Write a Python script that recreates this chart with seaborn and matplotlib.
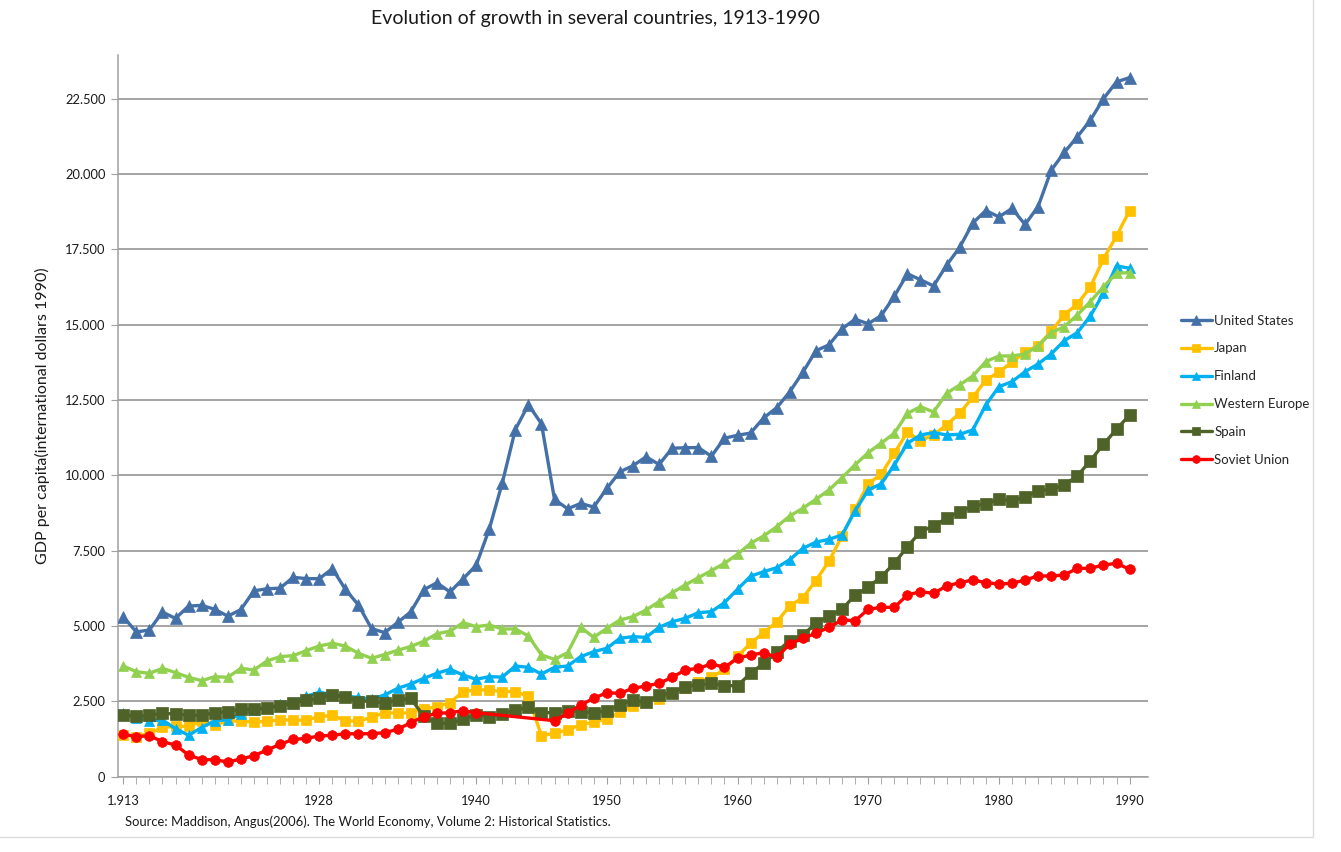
import numpy as np
import pandas as pd
import matplotlib
matplotlib.use("Agg")
import matplotlib.pyplot as plt
from matplotlib.lines import Line2D
from matplotlib.ticker import FuncFormatter, MultipleLocator
import seaborn as sns

# GDP per capita, 1990 international dollars (Maddison)
years = list(range(1913, 1991))

united_states = [5301, 4799, 4864, 5459, 5248, 5659, 5680, 5552, 5323, 5540,
                 6164, 6233, 6252, 6612, 6570, 6569, 6899, 6213, 5691, 4908,
                 4777, 5114, 5467, 6204, 6430, 6126, 6561, 7010, 8206, 9741,
                 11518, 12341, 11709, 9197, 8886, 9065, 8944, 9561, 10116, 10316,
                 10613, 10359, 10897, 10914, 10920, 10631, 11230, 11328, 11402, 11905,
                 12242, 12773, 13419, 14134, 14330, 14863, 15179, 15030, 15304, 15944,
                 16689, 16491, 16284, 16975, 17567, 18373, 18789, 18577, 18856, 18325,
                 18920, 20123, 20717, 21236, 21788, 22499, 23059, 23201]

japan = [1387, 1327, 1430, 1630, 1665, 1668, 1827, 1696, 1860, 1831,
         1809, 1829, 1885, 1872, 1870, 1992, 2026, 1850, 1837, 1962,
         2122, 2098, 2120, 2244, 2315, 2449, 2816, 2874, 2873, 2818,
         2822, 2659, 1346, 1444, 1541, 1725, 1800, 1921, 2126, 2336,
         2474, 2582, 2771, 2948, 3136, 3289, 3554, 3986, 4426, 4777,
         5129, 5668, 5934, 6506, 7152, 7983, 8874, 9714, 10040, 10734,
         11434, 11145, 11344, 11669, 12064, 12585, 13163, 13428, 13754, 14078,
         14307, 14773, 15331, 15679, 16251, 17185, 17943, 18789]

finland = [2100, 1953, 1849, 1877, 1585, 1370, 1627, 1846, 1882, 2079,
           2207, 2271, 2392, 2480, 2664, 2797, 2717, 2666, 2629, 2563,
           2706, 2928, 3071, 3260, 3426, 3559, 3370, 3227, 3314, 3300,
           3669, 3625, 3403, 3625, 3669, 3979, 4144, 4255, 4588, 4642,
           4620, 4953, 5140, 5251, 5439, 5472, 5771, 6214, 6650, 6800,
           6930, 7200, 7575, 7780, 7874, 8018, 8820, 9512, 9720, 10342,
           11062, 11338, 11415, 11338, 11360, 11504, 12334, 12941, 13107, 13439,
           13695, 14027, 14469, 14734, 15289, 16042, 16949, 16872]

western_europe = [3669, 3480, 3425, 3591, 3450, 3293, 3181, 3314, 3293, 3591,
                  3536, 3835, 3979, 4012, 4178, 4333, 4421, 4330, 4090, 3923,
                  4050, 4190, 4320, 4490, 4740, 4825, 5107, 4975, 5030, 4898,
                  4898, 4665, 4034, 3890, 4111, 4953, 4620, 4920, 5196, 5306,
                  5528, 5804, 6102, 6358, 6600, 6834, 7077, 7380, 7740, 7985,
                  8293, 8649, 8904, 9203, 9512, 9920, 10350, 10750, 11070, 11394,
                  12058, 12277, 12100, 12722, 12998, 13297, 13771, 13961, 13961, 14027,
                  14293, 14734, 14933, 15322, 15763, 16261, 16706, 16727]

spain = [2031, 2000, 2031, 2097, 2075, 2031, 2031, 2119, 2152, 2241,
         2241, 2285, 2341, 2430, 2540, 2596, 2706, 2629, 2485, 2519,
         2430, 2540, 2596, 2000, 1766, 1766, 1899, 2042, 1987, 2075,
         2208, 2297, 2119, 2119, 2186, 2152, 2119, 2186, 2374, 2540,
         2463, 2706, 2783, 2983, 3038, 3093, 3016, 3016, 3425, 3757,
         4144, 4509, 4698, 5085, 5329, 5550, 6026, 6281, 6634, 7077,
         7630, 8127, 8317, 8572, 8791, 8981, 9047, 9203, 9157, 9269,
         9489, 9534, 9678, 9977, 10485, 11029, 11527, 12002]

# no figures for 1941-1945
soviet_union = [1400, 1323, 1356, 1156, 1046, 714, 560, 560, 480, 580,
                690, 880, 1068, 1230, 1267, 1345, 1370, 1420, 1420, 1420,
                1455, 1567, 1787, 1987, 2097, 2119, 2186, 2119, np.nan, np.nan,
                np.nan, np.nan, np.nan, 1853, 2097, 2374, 2596, 2783, 2761, 2928,
                3005, 3093, 3293, 3536, 3591, 3735, 3625, 3923, 4034, 4111,
                3957, 4399, 4588, 4753, 4953, 5196, 5173, 5550, 5617, 5617,
                6026, 6136, 6081, 6325, 6435, 6524, 6435, 6391, 6413, 6524,
                6657, 6657, 6690, 6911, 6911, 7022, 7077, 6879]

countries = ["United States", "Japan", "Finland", "Western Europe", "Spain", "Soviet Union"]
series = [united_states, japan, finland, western_europe, spain, soviet_union]

xtick_years = [1913, 1928, 1940, 1950, 1960, 1970, 1980, 1990]
xtick_labels = ["1.913", "1928", "1940", "1950", "1960", "1970", "1980", "1990"]

# long table, gaps dropped so the line joins 1940 to 1946 like Excel does
df = pd.concat([pd.DataFrame({"year": years, "gdp": s, "country": c})
                for c, s in zip(countries, series)], ignore_index=True)
df = df.dropna()

# styles
colors = ["#4470A8", "#FFC000", "#00B0F0", "#92D050", "#4F6228", "#FF0000"]
markers = ["^", "s", "^", "^", "s", "o"]
msizes = [9, 7, 7, 7, 8, 7]

sns.set_style("white")
plt.rcParams["font.family"] = ["Lato", "DejaVu Sans"]

fig = plt.figure(figsize=(13.41, 8.52), dpi=100)
ax = fig.add_axes([0.088, 0.0886, 0.768, 0.8468])

for name, c, m, ms in zip(countries, colors, markers, msizes):
    sub = df[df.country == name]
    sns.lineplot(data=sub, x="year", y="gdp", color=c, marker=m, markersize=ms,
                 markeredgecolor=c, markeredgewidth=0.5, linewidth=2.4,
                 estimator=None, label=name, ax=ax, zorder=3)

ax.set_xlim(1912.6, 1991.4)
ax.set_ylim(0, 23950)
ax.yaxis.set_major_locator(MultipleLocator(2500))
ax.yaxis.set_major_formatter(FuncFormatter(lambda v, p: f"{int(v):,}".replace(",", ".")))
ax.set_xticks(xtick_years)
ax.set_xticklabels(xtick_labels)
ax.set_xticks(years, minor=True)

ax.grid(axis="y", color="#8c8c8c", linewidth=1.1)
ax.set_axisbelow(True)
for side in ["top", "right"]:
    ax.spines[side].set_visible(False)
for side in ["left", "bottom"]:
    ax.spines[side].set_color("#a0a0a0")
    ax.spines[side].set_linewidth(1.1)

ax.tick_params(axis="y", which="major", left=True, length=5, color="#a0a0a0",
               labelsize=9.3, pad=4, labelcolor="#1a1a1a")
ax.tick_params(axis="x", which="both", bottom=True, length=5, color="#a0a0a0",
               labelsize=9.3, pad=8, labelcolor="#1a1a1a")

ax.set_xlabel("")
ax.set_ylabel("GDP per capita(international dollars 1990)", fontsize=11.5,
              color="#1a1a1a", labelpad=11)

fig.text(0.444, 0.978, "Evolution of growth in several countries, 1913-1990",
         ha="center", va="center", fontsize=14, color="#1a1a1a")
fig.text(0.093, 0.035, "Source: Maddison, Angus(2006). The World Economy, Volume 2: Historical Statistics.",
         ha="left", va="center", fontsize=9.4, color="#1a1a1a")

ax.legend_.remove()
handles, labels = ax.get_legend_handles_labels()
fig.legend(handles, labels, loc="center left", bbox_to_anchor=(0.872, 0.542),
           frameon=False, fontsize=9.5, handlelength=2.3, handletextpad=0.2,
           labelspacing=1.2, markerscale=0.8)

# light border of the original screenshot
fig.add_artist(Line2D([0.979, 0.979], [0.018, 1.0], color="#dcdcdc", linewidth=1))
fig.add_artist(Line2D([0.0, 0.979], [0.018, 0.018], color="#dcdcdc", linewidth=1))

fig.savefig("out.png", dpi=100)
